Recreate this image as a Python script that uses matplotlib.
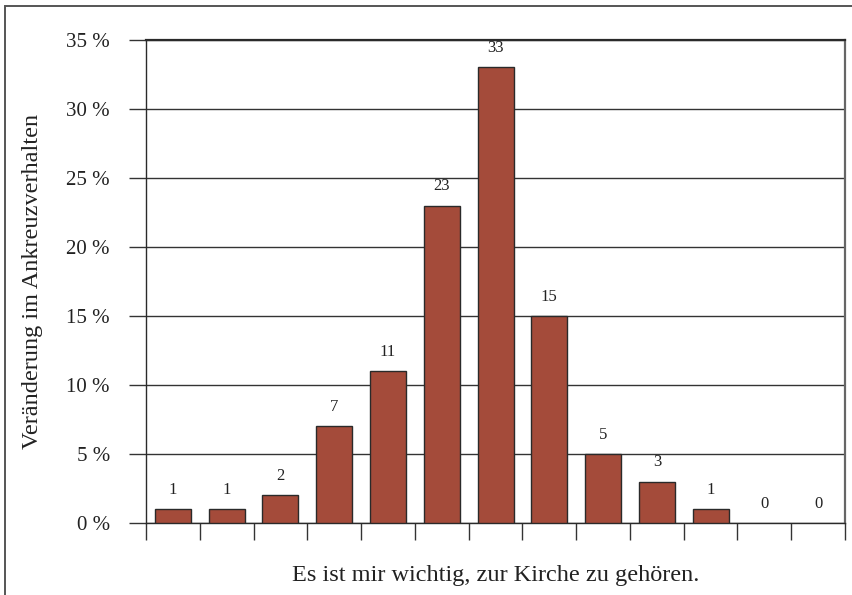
import numpy as np
import matplotlib.pyplot as plt
from matplotlib.patches import Rectangle

plt.rcParams['font.family'] = ['Liberation Serif', 'DejaVu Serif']

# Anteile je Antwortstufe (in Prozent)
werte = [1, 1, 2, 7, 11, 23, 33, 15, 5, 3, 1, 0, 0]
yticks = [0, 5, 10, 15, 20, 25, 30, 35]
ylabels = ['%d %%' % v for v in yticks]

fig = plt.figure(figsize=(8.52, 5.95), dpi=100)
ax = fig.add_axes([0.1714, 0.121, 0.8204, 0.812])

x = np.arange(len(werte))
# leere Kategorien ohne Umriss zeichnen
lw = [1.0 if v > 0 else 0 for v in werte]
ax.bar(x, werte, width=0.67, color='#a44b3a', edgecolor='#2a2a2a',
       linewidth=lw, zorder=3)
for xi, v in zip(x, werte):
    ax.annotate(str(v), (xi, v), xytext=(0, 8), textcoords='offset points',
                ha='center', va='bottom', fontsize=12, color='#222222')

ax.set_xlim(-0.5, len(werte) - 0.5)
ax.set_ylim(0, 35)
ax.set_yticks(yticks)
ax.set_yticklabels(ylabels, fontsize=15, color='#222222')
ax.yaxis.grid(True, color='#333333', linewidth=1.0, zorder=0)

# Trennstriche zwischen den Kategorien
ax.set_xticks(np.arange(-0.5, len(werte), 1.0))
ax.set_xticklabels([])
ax.tick_params(axis='x', direction='out', length=12, width=1.0, color='#333333')
ax.tick_params(axis='y', direction='out', length=12, width=1.0, color='#333333', pad=14)

for s in ['left', 'bottom', 'top']:
    ax.spines[s].set_color('#2a2a2a')
    ax.spines[s].set_linewidth(1.0)
ax.spines['top'].set_linewidth(1.6)
ax.spines['right'].set_color('#666666')
ax.spines['right'].set_linewidth(1.6)

ax.set_xlabel('Es ist mir wichtig, zur Kirche zu gehören.', fontsize=17.5, color='#222222')
ax.set_ylabel('Veränderung im Ankreuzverhalten', fontsize=17.5, color='#222222')
ax.xaxis.set_label_coords(0.5, -0.086)
ax.yaxis.set_label_coords(-0.147, 0.5)

# Rahmen um die Abbildung
fig.patches.append(Rectangle((5 / 852, -0.05), 1.1, 1 - 6 / 595 + 0.05,
                             transform=fig.transFigure, fill=False,
                             edgecolor='#555555', linewidth=1.4))

fig.savefig('out.png', dpi=100)
